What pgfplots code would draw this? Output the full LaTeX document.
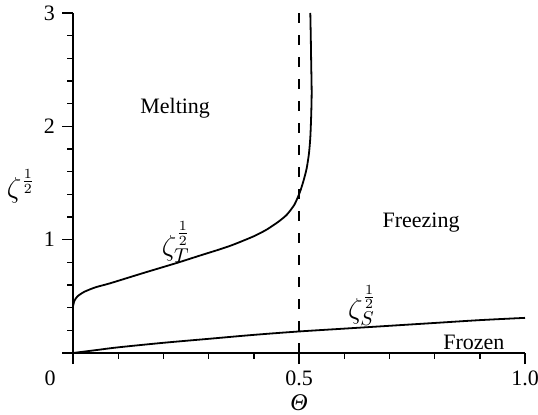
\documentclass[border=0pt]{standalone}
\usepackage{fontspec}
\setmainfont{Liberation Serif}
\usepackage{pgfplots}
\pgfplotsset{compat=1.18}
\begin{document}
\begin{tikzpicture}
\begin{axis}[
  name=ax,
  scale only axis,
  width=226pt, height=170pt,
  xmin=0, xmax=1, ymin=0, ymax=3,
  axis lines=left,
  axis line style={-, line width=0.8pt},
  font=\fontsize{11}{13}\selectfont,
  /pgf/number format/assume math mode=true,
  xtick={0,0.5,1}, xticklabels={,0.5,1.0},
  ytick={0,1,2,3}, yticklabels={,1,2,3},
  minor x tick num=4, minor y tick num=4,
  tick align=outside,
  major tick length=5.5pt, minor tick length=3pt,
  every tick/.style={line width=0.7pt, black},
  xticklabel style={yshift=0pt},
  xlabel={\fontsize{12}{14}\selectfont\itshape Θ},
  xlabel style={at={(axis description cs:0.5,0)}, anchor=center, yshift=-25pt},
  ylabel={\fontsize{14}{16}\selectfont$\zeta^{\frac{1}{2}}$},
  ylabel style={rotate=-90, at={(axis description cs:0,0.49)}, anchor=center, xshift=-26pt},
  clip=false,
]
\addplot[black, line width=0.9pt, smooth, tension=0.4] coordinates {
  (0,0.41) (0.003,0.46) (0.01,0.50) (0.025,0.54) (0.05,0.58) (0.082,0.615) (0.155,0.705)
  (0.23,0.795) (0.281,0.86) (0.325,0.915) (0.354,0.955) (0.40,1.03) (0.429,1.09)
  (0.455,1.16) (0.473,1.22) (0.490,1.31) (0.502,1.42) (0.510,1.52) (0.517,1.63)
  (0.522,1.76) (0.525,1.90) (0.527,2.1) (0.528,2.3) (0.527,2.55) (0.526,2.8) (0.525,3.0)
};
\addplot[black, line width=0.9pt, smooth] coordinates {
  (0,0) (0.05,0.025) (0.1,0.05) (0.2,0.09) (0.3,0.125) (0.4,0.16) (0.5,0.19)
  (0.6,0.215) (0.7,0.24) (0.8,0.265) (0.9,0.29) (1.0,0.31)
};
\addplot[black, line width=0.7pt, dash pattern=on 5pt off 6pt] coordinates {(0.5,0) (0.5,3)};
\node at (axis cs:0.226,2.16) {Melting};
\node at (axis cs:0.77,1.15) {Freezing};
\node at (axis cs:0.887,0.097) {Frozen};
\node at (axis cs:0.228,0.98) {\fontsize{14}{16}\selectfont$\zeta^{\frac{1}{2}}_{T}$};
\node at (axis cs:0.64,0.42) {\fontsize{14}{16}\selectfont$\zeta^{\frac{1}{2}}_{S}$};
\node at (axis cs:0,0) [xshift=-11.5pt, yshift=-12.5pt] {0};
\end{axis}
\pgfresetboundingbox
\path ([xshift=-36.5pt,yshift=-31pt]ax.south west) rectangle ([xshift=6.5pt,yshift=6.5pt]ax.north east);
\end{tikzpicture}
\end{document}
